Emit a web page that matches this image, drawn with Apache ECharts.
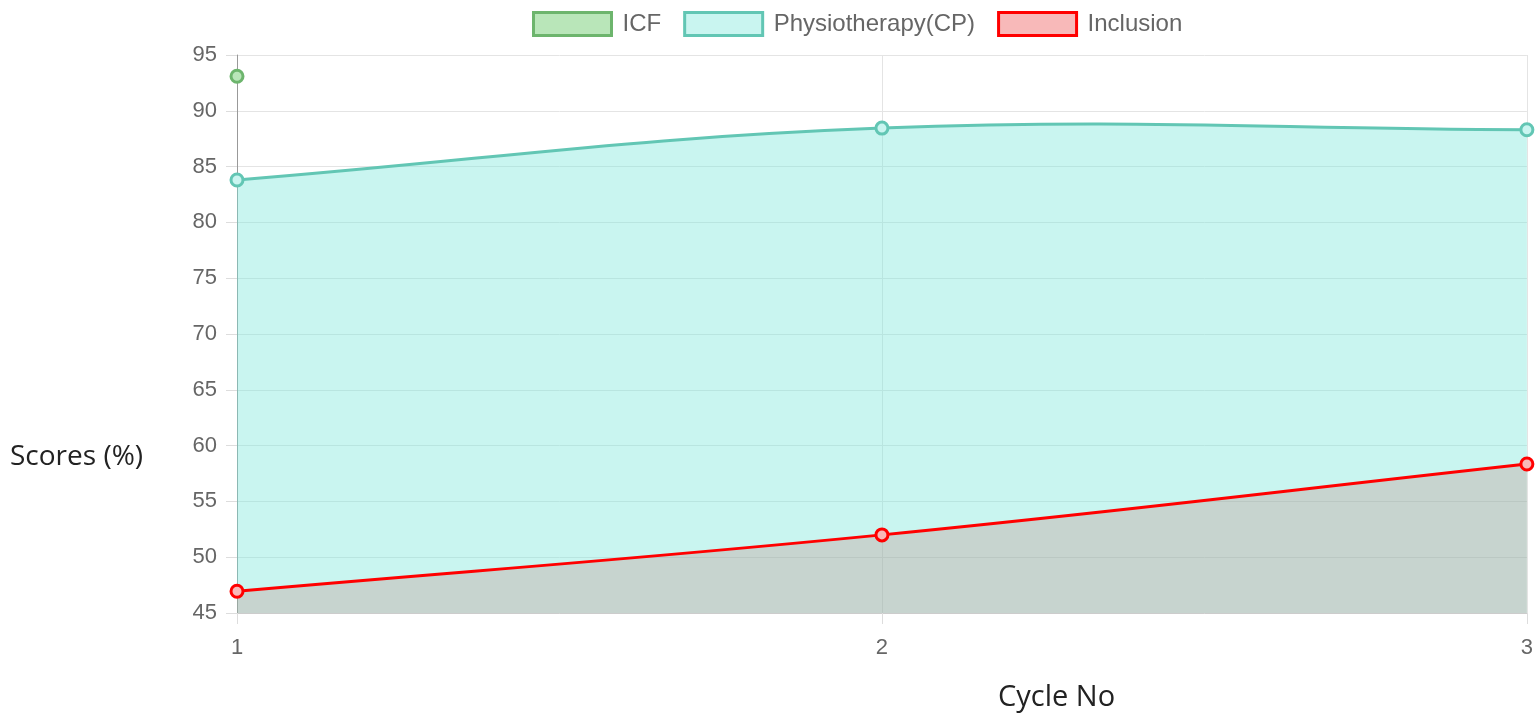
<!DOCTYPE html>
<html>
<head>
<meta charset="utf-8">
<script src="https://cdn.jsdelivr.net/npm/echarts@6/dist/echarts.min.js"></script>
<style>
  html, body { margin: 0; padding: 0; background: #fff; }
  #chart { width: 1536px; height: 722px; }
</style>
</head>
<body>
<div id="chart"></div>
<script>
// values
var cycles = ['1', '2', '3'];
var icf = [93.1, null, null];
var physio = [83.8, 88.45, 88.3];
var inclusion = [46.95, 52.0, 58.35];
var yMin = 45;

var myChart = echarts.init(document.getElementById('chart'));

function legendItem(name, fill, border) {
    return { name: name, itemStyle: { color: fill, borderColor: border, borderWidth: 3 } };
}

// cubic spline like chart.js (tension 0.4), points come from the axis scales
function splinePath(vals, api, tension) {
    var pts = vals.map(function (v, i) { return api.coord([i, v]); });
    var n = pts.length;
    var cpIn = [], cpOut = [];
    for (var i = 0; i < n; i++) {
        var prev = pts[i > 0 ? i - 1 : i], cur = pts[i], next = pts[i < n - 1 ? i + 1 : i];
        var d01 = Math.hypot(cur[0] - prev[0], cur[1] - prev[1]);
        var d12 = Math.hypot(next[0] - cur[0], next[1] - cur[1]);
        var s01 = d01 / (d01 + d12) || 0, s12 = d12 / (d01 + d12) || 0;
        var fa = tension * s01, fb = tension * s12;
        cpIn.push([cur[0] - fa * (next[0] - prev[0]), cur[1] - fa * (next[1] - prev[1])]);
        cpOut.push([cur[0] + fb * (next[0] - prev[0]), cur[1] + fb * (next[1] - prev[1])]);
    }
    var d = 'M' + pts[0][0] + ' ' + pts[0][1];
    for (var j = 1; j < n; j++) {
        d += ' C' + cpOut[j - 1][0] + ' ' + cpOut[j - 1][1] + ' ' + cpIn[j][0] + ' ' + cpIn[j][1] + ' ' + pts[j][0] + ' ' + pts[j][1];
    }
    return { d: d, first: pts[0], last: pts[n - 1] };
}

function curveSeries(name, vals, lineColor, fillColor, z) {
    return {
        name: name,
        type: 'custom',
        z: z,
        data: vals.map(function (v, i) { return [i, v]; }),
        renderItem: function (params, api) {
            if (params.dataIndex !== 0) return null;
            var p = splinePath(vals, api, 0.4);
            var base = api.coord([0, yMin])[1];
            var area = p.d + ' L' + p.last[0] + ' ' + base + ' L' + p.first[0] + ' ' + base + ' Z';
            return {
                type: 'group',
                children: [
                    { type: 'path', shape: { pathData: area }, style: { fill: fillColor, stroke: null } },
                    { type: 'path', shape: { pathData: p.d }, style: { fill: null, stroke: lineColor, lineWidth: 3 } }
                ]
            };
        }
    };
}

function pointSeries(name, vals, fill, border, z) {
    return {
        name: name,
        type: 'line',
        data: vals,
        symbol: 'circle',
        symbolSize: 12,
        showAllSymbol: true,
        lineStyle: { opacity: 0 },
        itemStyle: { color: fill, borderColor: border, borderWidth: 3 },
        z: z
    };
}

var option = {
    backgroundColor: '#fff',
    animation: false,
    legend: {
        top: 6,
        left: 527,
        itemWidth: 78,
        itemHeight: 23,
        itemGap: 22,
        icon: 'rect',
        textStyle: { fontFamily: 'Liberation Sans', fontSize: 24, color: '#666', padding: [0, 0, 0, 6] },
        data: [
            legendItem('ICF', '#b9e6b9', '#6db56d'),
            legendItem('Physiotherapy(CP)', '#c9f5f0', '#62c6b4'),
            legendItem('Inclusion', '#f8b9b9', '#ff0000')
        ]
    },
    grid: { left: 237, right: 7, top: 55, bottom: 109 },
    xAxis: {
        type: 'category',
        boundaryGap: false,
        data: cycles,
        axisLine: { lineStyle: { color: '#ccc', width: 1 } },
        axisTick: { show: true, length: 11, lineStyle: { color: '#ddd' } },
        axisLabel: { fontFamily: 'Liberation Sans', fontSize: 22, color: '#666', margin: 24 },
        splitLine: { show: true, lineStyle: { color: '#e4e4e4' } }
    },
    yAxis: {
        type: 'value',
        min: yMin,
        max: 95,
        interval: 5,
        axisLine: { show: true, lineStyle: { color: '#999', width: 1 } },
        axisTick: { show: true, length: 11, lineStyle: { color: '#ddd' } },
        axisLabel: { fontFamily: 'Liberation Sans', fontSize: 22, color: '#666', margin: 20 },
        splitLine: { show: true, lineStyle: { color: '#e4e4e4' } }
    },
    graphic: [
        {
            type: 'text', left: 10, top: 443,
            style: { text: 'Scores (%)', fontFamily: 'Open Sans', fontSize: 28, fill: '#222' }
        },
        {
            type: 'text', left: 998, top: 683,
            style: { text: 'Cycle No', fontFamily: 'Open Sans', fontSize: 29, fill: '#222' }
        }
    ],
    series: [
        curveSeries('Physiotherapy(CP)', physio, '#62c6b4', 'rgba(120,230,218,0.4)', 2),
        curveSeries('Inclusion', inclusion, '#ff0000', 'rgba(197,117,108,0.25)', 3),
        pointSeries('Physiotherapy(CP)', physio, '#c9f5f0', '#62c6b4', 5),
        pointSeries('Inclusion', inclusion, '#f8b9b9', '#ff0000', 5),
        pointSeries('ICF', icf, '#b9e6b9', '#6db56d', 5)
    ]
};

myChart.setOption(option);
window.addEventListener('resize', function () { myChart.resize(); });
</script>
</body>
</html>
